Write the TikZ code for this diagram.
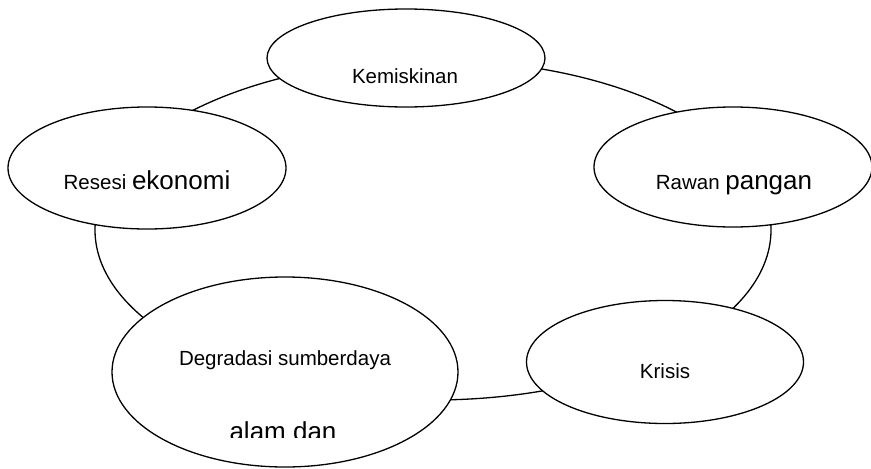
\documentclass[tikz,border=0pt]{standalone}
\usepackage{fontspec}
\setmainfont{Liberation Sans}
\usepackage{tikz}
\usetikzlibrary{shapes,positioning}

\begin{document}
\begin{tikzpicture}[x=1pt,y=-1pt,
    bubble/.style={draw,ellipse,fill=white,line width=1.3pt,inner sep=0pt},
    sm/.style={anchor=base,inner sep=0pt,font=\fontsize{20.5}{24}\selectfont},
    big/.style={anchor=base,inner sep=0pt,font=\fontsize{26}{30}\selectfont}]
    \useasboundingbox (0,0) rectangle (871,469);
    \draw[line width=1.3pt] (433,230) ellipse [x radius=338pt,y radius=170pt];
    \node[bubble,minimum width=278,minimum height=98] (kemiskinan) at (406,58) {};
    \node[bubble,minimum width=278,minimum height=122] (resesi) at (147,168) {};
    \node[bubble,minimum width=278,minimum height=120] (rawan) at (733,167) {};
    \node[bubble,minimum width=277,minimum height=123] (krisis) at (665,362) {};
    \node[bubble,minimum width=346,minimum height=190] (degradasi) at (285,372) {};
    \node[sm] (kemiskinan-t) at (405,83) {Kemiskinan};
    \node[sm] (resesi-t) at (147,189) {Resesi {\fontsize{26}{30}\selectfont ekonomi}};
    \node[sm] (rawan-t) at (734,189) {Rawan {\fontsize{26}{30}\selectfont pangan}};
    \node[sm] (krisis-t) at (665,378) {Krisis};
    \node[sm] (degradasi-t) at (285,365) {Degradasi sumberdaya};
    \begin{scope}
        \clip (100,300) rectangle (470,437);
        \node[big] (alam-t) at (283,440) {alam dan};
    \end{scope}
\end{tikzpicture}
\end{document}
